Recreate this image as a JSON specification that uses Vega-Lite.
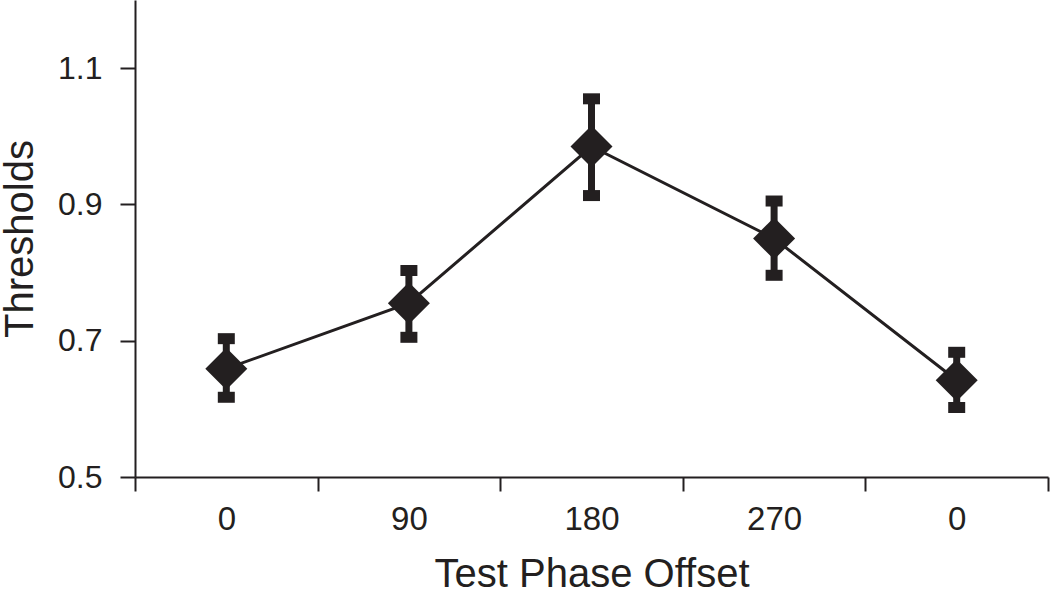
{
  "$schema": "https://vega.github.io/schema/vega-lite/v6.json",
  "width": 913,
  "height": 477,
  "padding": {"left": 0, "top": 0, "right": 2, "bottom": 0},
  "background": "white",
  "config": {
    "view": {"stroke": null},
    "font": "Liberation Sans",
    "axis": {
      "grid": false,
      "domainColor": "#231f20",
      "domainWidth": 2,
      "tickColor": "#231f20",
      "tickWidth": 2,
      "labelColor": "#231f20",
      "titleColor": "#231f20",
      "labelFontSize": 32,
      "titleFontSize": 40,
      "titleFontWeight": "normal",
      "labelFont": "Liberation Sans",
      "titleFont": "Liberation Sans"
    },
    "axisY": {"tickSize": 15, "labelPadding": 18, "titlePadding": 17},
    "axisX": {"tickSize": 14, "labelPadding": 12, "titlePadding": 18, "labelFontSize": 33, "labelAngle": 0, "tickBand": "extent"}
  },
  "data": {
    "values": [
      {"idx": 1, "offset": "0", "mean": 0.659, "low": 0.617, "high": 0.703},
      {"idx": 2, "offset": "90", "mean": 0.755, "low": 0.705, "high": 0.803},
      {"idx": 3, "offset": "180", "mean": 0.985, "low": 0.913, "high": 1.055},
      {"idx": 4, "offset": "270", "mean": 0.850, "low": 0.796, "high": 0.905},
      {"idx": 5, "offset": "0", "mean": 0.642, "low": 0.602, "high": 0.683}
    ]
  },
  "encoding": {
    "x": {
      "field": "idx",
      "type": "ordinal",
      "title": "Test Phase Offset",
      "scale": {"type": "band", "paddingInner": 0, "paddingOuter": 0},
      "axis": {"labelExpr": "['0','90','180','270','0'][datum.value-1]"}
    }
  },
  "layer": [
    {
      "mark": {"type": "rule", "strokeWidth": 7, "color": "#231f20"},
      "encoding": {
        "y": {"field": "low", "type": "quantitative", "title": "Thresholds",
              "scale": {"domain": [0.5, 1.2], "nice": false, "zero": false},
              "axis": {"values": [0.5, 0.7, 0.9, 1.1], "format": ".1f"}},
        "y2": {"field": "high"}
      }
    },
    {
      "mark": {"type": "tick", "thickness": 11, "size": 17, "color": "#231f20", "opacity": 1},
      "encoding": {"y": {"field": "low", "type": "quantitative", "title": "Thresholds"}}
    },
    {
      "mark": {"type": "tick", "thickness": 11, "size": 17, "color": "#231f20", "opacity": 1},
      "encoding": {"y": {"field": "high", "type": "quantitative", "title": "Thresholds"}}
    },
    {
      "mark": {"type": "line", "strokeWidth": 3, "color": "#231f20"},
      "encoding": {"y": {"field": "mean", "type": "quantitative", "title": "Thresholds"}}
    },
    {
      "mark": {"type": "point", "shape": "diamond", "filled": true, "size": 1764, "color": "#231f20", "opacity": 1},
      "encoding": {"y": {"field": "mean", "type": "quantitative", "title": "Thresholds"}}
    }
  ]
}
